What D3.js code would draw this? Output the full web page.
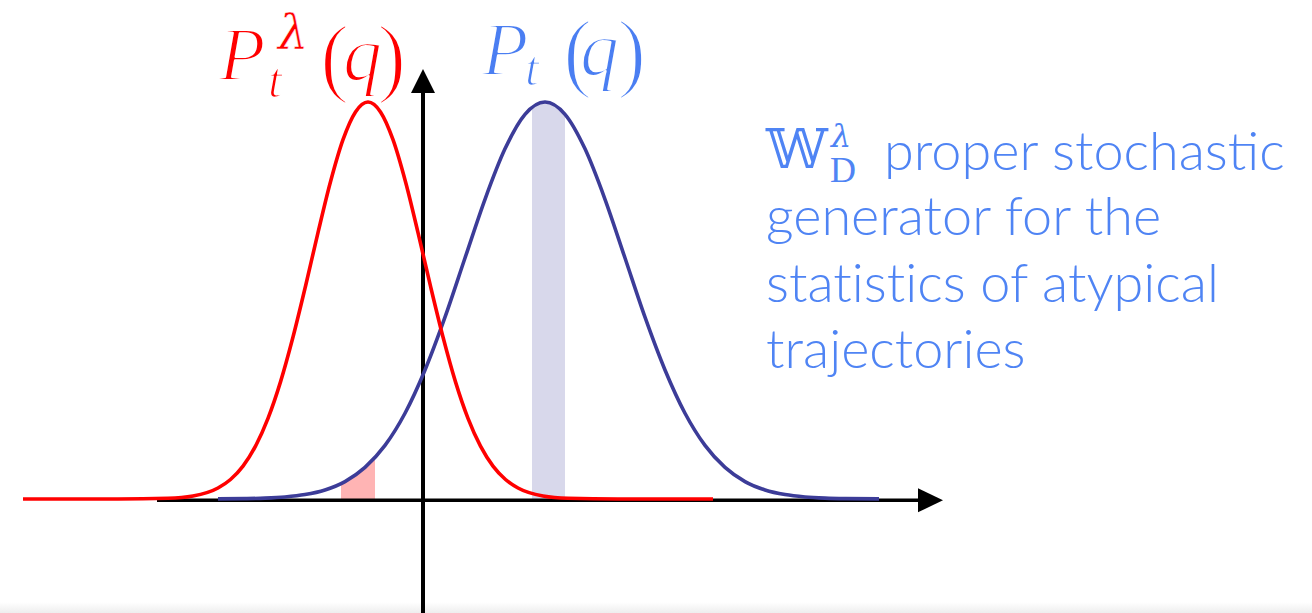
<!DOCTYPE html>
<html>
<head>
<meta charset="utf-8">
<script src="https://cdn.jsdelivr.net/npm/d3@7"></script>
<style>
  html, body { margin: 0; padding: 0; background: #ffffff; }
  svg { display: block; }
</style>
</head>
<body>
<svg id="chart" width="1312" height="613"></svg>
<script>
// Tilted density P_t^λ(q) (red) against the typical density P_t(q) (blue)
const tiltedQ   = [-8.0, -6.1, -5.1, -4.6, -4.1, -3.85, -3.6, -3.35, -3.1, -2.85, -2.6, -2.35, -2.1, -1.85, -1.6, -1.35, -1.1,
                   -0.85, -0.6, -0.35, -0.1, 0.15, 0.4, 0.65, 0.9, 1.15, 1.4, 1.65, 1.9, 2.4, 2.9, 3.9, 5.8];
const tiltedP   = [0, 0, 0.0017, 0.0076, 0.0277, 0.0491, 0.0828, 0.133, 0.203, 0.295, 0.408, 0.536, 0.671, 0.799, 0.905, 0.975, 1.0,
                   0.975, 0.905, 0.799, 0.671, 0.536, 0.408, 0.295, 0.203, 0.133, 0.0828, 0.0491, 0.0277, 0.0076, 0.0017, 0, 0];

const typicalQ  = [-4.1, -3.56, -3.16, -2.76, -2.36, -1.96, -1.56, -1.16, -0.76, -0.36, 0.04, 0.44, 0.84, 1.24, 1.64, 2.04, 2.44,
                   2.84, 3.24, 3.64, 4.04, 4.44, 4.84, 5.24, 5.64, 6.04, 6.44, 6.84, 7.24, 7.64, 8.04, 8.44, 9.12];
const typicalP  = [0.0002, 0.0009, 0.0022, 0.0051, 0.0111, 0.0228, 0.0439, 0.0796, 0.135, 0.216, 0.325, 0.458, 0.607, 0.755, 0.882, 0.969, 1.0,
                   0.969, 0.882, 0.755, 0.607, 0.458, 0.325, 0.216, 0.135, 0.0796, 0.0439, 0.0228, 0.0111, 0.0051, 0.0022, 0.0009, 0.0002];

// Highlighted windows under the typical density
const rareBandQ    = [-1.64, -1.3, -0.96];
const rareBandP    = [0.0387, 0.065, 0.1046];
const typicalBandQ = [2.18, 2.44, 2.84];
const typicalBandP = [0.987, 1.0, 0.969];

// Annotation lines beside the plot
const noteLines = ["generator for the", "statistics of atypical", "trajectories"];

const red        = "#ff0000";
const mathColor  = "#4a7ef2";
const textColor  = "#4f84f4";

const svg = d3.select("#chart");
const x = d3.scaleLinear().domain([-8, 10]).range([23, 923]);
const y = d3.scaleLinear().domain([0, 1]).range([499, 102]);

const zip = (qs, ps) => qs.map((q, i) => ({ q, p: ps[i] }));

const line = d3.line().x(d => x(d.q)).y(d => y(d.p)).curve(d3.curveMonotoneX);
const area = d3.area().x(d => x(d.q)).y0(y(0)).y1(d => y(d.p)).curve(d3.curveMonotoneX);

// faint shading along the bottom edge
const defs = svg.append("defs");
const g = defs.append("linearGradient").attr("id", "edge").attr("x1", 0).attr("y1", 0).attr("x2", 0).attr("y2", 1);
g.append("stop").attr("offset", "0%").attr("stop-color", "#ffffff");
g.append("stop").attr("offset", "100%").attr("stop-color", "#eeeeee");
svg.append("rect").attr("x", 0).attr("y", 602).attr("width", 1312).attr("height", 11).attr("fill", "url(#edge)");

// shaded windows
svg.append("path").datum(zip(rareBandQ, rareBandP)).attr("d", area).attr("fill", "#ffb4b4");
svg.append("path").datum(zip(typicalBandQ, typicalBandP)).attr("d", area).attr("fill", "#d8d8eb");

// axes with arrowheads
const axisY = y(0) + 1.3;
const axisX = x(0);
svg.append("line").attr("x1", 157).attr("x2", 920).attr("y1", axisY).attr("y2", axisY)
  .attr("stroke", "#000").attr("stroke-width", 3.5);
svg.append("path").attr("d", `M918,${axisY - 12}L943,${axisY}L918,${axisY + 12}Z`).attr("fill", "#000");
svg.append("line").attr("x1", axisX).attr("x2", axisX).attr("y1", 613).attr("y2", 91)
  .attr("stroke", "#000").attr("stroke-width", 4);
svg.append("path").attr("d", `M${axisX - 12},93L${axisX},69L${axisX + 12},93Z`).attr("fill", "#000");

// density curves
svg.append("path").datum(zip(typicalQ, typicalP)).attr("d", line)
  .attr("fill", "none").attr("stroke", "#3c3c98").attr("stroke-width", 3.6);
svg.append("path").datum(zip(tiltedQ, tiltedP)).attr("d", line)
  .attr("fill", "none").attr("stroke", red).attr("stroke-width", 3.6);

// math labels: one text element per formula, pieces placed as tspans;
// a thin white outline lightens the serif strokes
const serif = "'Liberation Serif', 'DejaVu Serif', serif";
function formula(color, parts) {
  const t = svg.append("text").attr("font-family", serif).attr("fill", color)
    .attr("stroke", "#ffffff").attr("stroke-linejoin", "round");
  parts.forEach(p => {
    t.append("tspan").attr("x", p.x).attr("y", p.y)
      .attr("font-size", p.size)
      .attr("font-family", p.font || serif)
      .attr("font-style", p.italic ? "italic" : "normal")
      .attr("stroke-width", p.thin)
      .text(p.s);
  });
}
formula(red, [
  { s: "P", x: 219, y: 80, size: 76, italic: true, thin: 2.2 },
  { s: "λ", x: 278, y: 49, size: 48, italic: true, thin: 0.5, font: "'DejaVu Serif', serif" },
  { s: "t", x: 268, y: 97, size: 50, italic: true, thin: 1.4 },
  { s: "(", x: 320, y: 86, size: 88, italic: false, thin: 2.6 },
  { s: "q", x: 343, y: 80, size: 78, italic: true, thin: 2.2 },
  { s: ")", x: 377, y: 86, size: 88, italic: false, thin: 2.6 }
]);
formula(mathColor, [
  { s: "P", x: 482, y: 75, size: 76, italic: true, thin: 2.2 },
  { s: "t", x: 525, y: 85, size: 50, italic: true, thin: 1.4 },
  { s: "(", x: 563, y: 81, size: 88, italic: false, thin: 2.6 },
  { s: "q", x: 580, y: 75, size: 78, italic: true, thin: 2.2 },
  { s: ")", x: 617, y: 81, size: 88, italic: false, thin: 2.6 }
]);

// annotation block
const sans = "Lato, 'Open Sans', 'DejaVu Sans', sans-serif";
const first = svg.append("text").attr("fill", textColor);
first.append("tspan").attr("x", 766).attr("y", 168)
  .attr("font-family", "'DejaVu Serif', 'DejaVu Sans', serif").attr("font-size", 55).text("𝕎");
first.append("tspan").attr("x", 831).attr("y", 147)
  .attr("font-family", "'DejaVu Serif', serif").attr("font-style", "italic").attr("font-size", 32).text("λ");
first.append("tspan").attr("x", 830).attr("y", 182)
  .attr("font-family", serif).attr("font-size", 36).text("D");
first.append("tspan").attr("x", 884).attr("y", 170)
  .attr("font-family", sans).attr("font-weight", 300).attr("font-size", 54).text("proper stochastic");

svg.selectAll("text.note").data(noteLines).enter().append("text")
  .attr("class", "note")
  .attr("x", 766).attr("y", (d, i) => 235 + i * 66.5)
  .attr("font-family", sans).attr("font-weight", 300).attr("font-size", 54)
  .style("font-variant-ligatures", "none")
  .attr("fill", textColor).text(d => d);
</script>
</body>
</html>
